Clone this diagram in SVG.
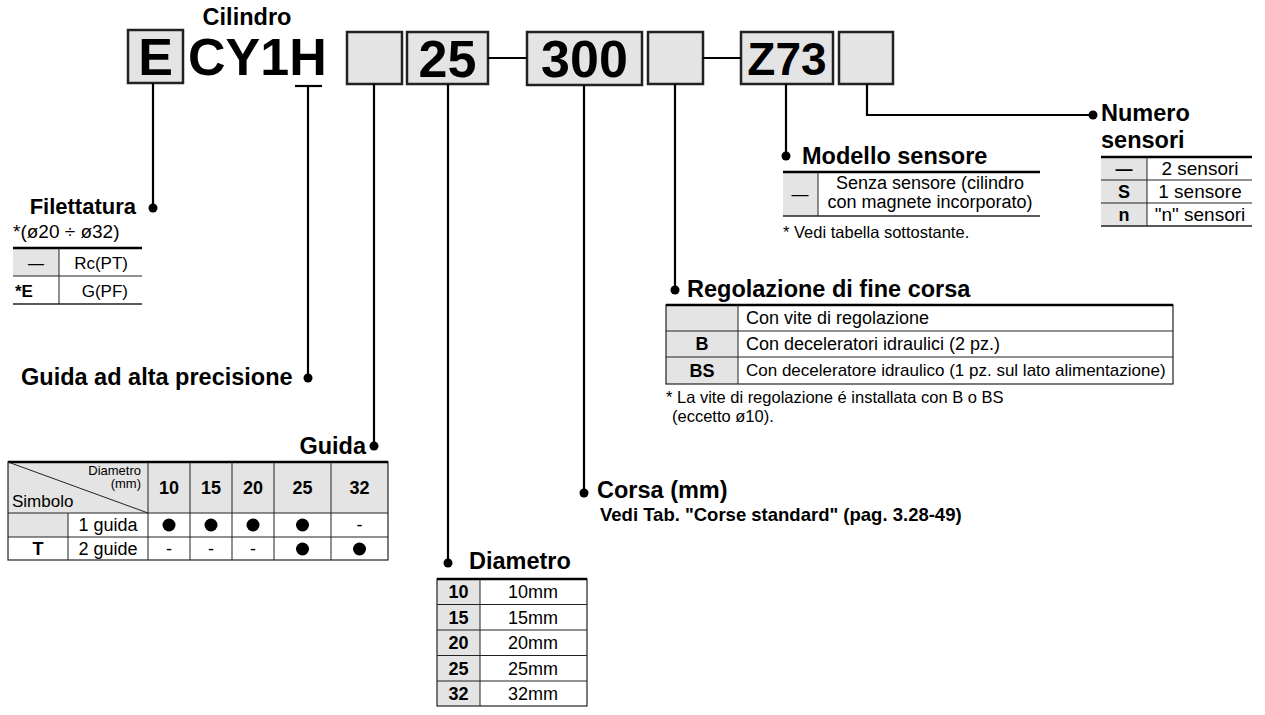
<svg xmlns="http://www.w3.org/2000/svg" width="1265" height="715" viewBox="0 0 1265 715">
<defs>
<style>
text{font-family:"Liberation Sans",Arial,Helvetica,sans-serif;fill:#000}
.big{font-size:52px;font-weight:bold}
.hd{font-size:23.5px;font-weight:bold}
.t{font-size:18px}
.tb{font-size:18px;font-weight:bold}
.m{text-anchor:middle}
.e{text-anchor:end}
.box{fill:#e4e4e4;stroke:#222;stroke-width:2.5}
.gray{fill:#e4e4e4;stroke:none}
.ln{stroke:#000;stroke-width:2.2;fill:none}
.thk{stroke:#000;stroke-width:2.5}
.thn{stroke:#222;stroke-width:1}
.dot{fill:#000}
</style>
</defs>
<rect width="1265" height="715" fill="#fff"/>

<g id="header">
<text class="hd m" x="247" y="25">Cilindro</text>
<rect class="box" x="128" y="30" width="55" height="53"/>
<text class="big m" x="155.5" y="75">E</text>
<text class="big" x="188" y="75">CY1H</text>
<rect class="box" x="347" y="32" width="55" height="52"/>
<rect class="box" x="407" y="32" width="81" height="52"/>
<text class="big m" x="447.5" y="77">25</text>
<rect class="box" x="527" y="32" width="115" height="53"/>
<text class="big m" x="584.5" y="77">300</text>
<rect class="box" x="648" y="32" width="55" height="52"/>
<rect class="box" x="741" y="32" width="92" height="52"/>
<text class="m" x="787" y="75" style="font-size:46px;font-weight:bold">Z73</text>
<rect class="box" x="839" y="32" width="54" height="52"/>
</g>

<g id="connectors">
<line class="ln" x1="488" y1="58" x2="527" y2="58"/>
<line class="ln" x1="703" y1="58" x2="741" y2="58"/>
<line class="ln" x1="153" y1="83" x2="153" y2="208"/>
<line class="ln" x1="295" y1="86" x2="322" y2="86"/>
<line class="ln" x1="308" y1="86" x2="308" y2="378"/>
<line class="ln" x1="374" y1="84" x2="374" y2="446"/>
<line class="ln" x1="448" y1="84" x2="448" y2="563"/>
<line class="ln" x1="584" y1="85" x2="584" y2="493"/>
<line class="ln" x1="675" y1="84" x2="675" y2="290"/>
<line class="ln" x1="786" y1="84" x2="786" y2="156"/>
<polyline class="ln" points="867,84 867,115 1093,115"/>
<circle class="dot" cx="153" cy="208" r="4.5"/>
<circle class="dot" cx="308" cy="378" r="4.5"/>
<circle class="dot" cx="374" cy="446" r="4.5"/>
<circle class="dot" cx="448" cy="563" r="4.5"/>
<circle class="dot" cx="584" cy="493" r="4.5"/>
<circle class="dot" cx="675" cy="290" r="4.5"/>
<circle class="dot" cx="786" cy="156" r="4.5"/>
<circle class="dot" cx="1093" cy="115" r="4.5"/>
</g>

<g id="filettatura">
<text class="e" x="136" y="214" style="font-size:22px;font-weight:bold">Filettatura</text>
<text x="13" y="238" style="font-size:19px">*(ø20 ÷ ø32)</text>
<rect class="gray" x="13" y="248" width="46" height="28"/>
<line class="thk" x1="13" y1="248" x2="142" y2="248"/>
<line class="thn" x1="13" y1="276" x2="142" y2="276"/>
<line class="thn" x1="13" y1="304" x2="142" y2="304" style="stroke-width:1.5"/>
<line class="thn" x1="59" y1="248" x2="59" y2="304"/>
<text class="m" x="36" y="269" style="font-size:16px">—</text>
<text class="e" x="128" y="269" style="font-size:17px">Rc(PT)</text>
<text x="15" y="297" style="font-size:17px;font-weight:bold">*E</text>
<text class="e" x="128" y="297" style="font-size:17px">G(PF)</text>
</g>

<g id="guida-precisione">
<text class="hd" x="21" y="385">Guida ad alta precisione</text>
</g>

<g id="guida">
<text class="hd e" x="366" y="454">Guida</text>
<rect class="gray" x="8" y="462" width="380" height="51"/>
<rect class="gray" x="8" y="513" width="60" height="24"/>
<rect x="8" y="462" width="380" height="98" fill="none" stroke="#222" stroke-width="1.2"/>
<line class="thk" x1="8" y1="462" x2="388" y2="462"/>
<line class="thn" x1="8" y1="513" x2="388" y2="513"/>
<line class="thn" x1="8" y1="537" x2="388" y2="537"/>
<line class="thn" x1="148" y1="462" x2="148" y2="560"/>
<line class="thn" x1="190" y1="462" x2="190" y2="560"/>
<line class="thn" x1="232" y1="462" x2="232" y2="560"/>
<line class="thn" x1="274" y1="462" x2="274" y2="560"/>
<line class="thn" x1="331" y1="462" x2="331" y2="560"/>
<line class="thn" x1="68" y1="513" x2="68" y2="560"/>
<line class="thn" x1="8" y1="462" x2="148" y2="513"/>
<text class="e" x="141" y="475" style="font-size:13px">Diametro</text>
<text class="e" x="141" y="488" style="font-size:13px">(mm)</text>
<text x="12" y="507" style="font-size:17px">Simbolo</text>
<text class="tb m" x="169" y="494">10</text>
<text class="tb m" x="211" y="494">15</text>
<text class="tb m" x="253" y="494">20</text>
<text class="tb m" x="302.5" y="494">25</text>
<text class="tb m" x="359.5" y="494">32</text>
<text class="t m" x="108" y="531">1 guida</text>
<circle class="dot" cx="169" cy="525" r="6.5"/>
<circle class="dot" cx="211" cy="525" r="6.5"/>
<circle class="dot" cx="253" cy="525" r="6.5"/>
<circle class="dot" cx="302.5" cy="525" r="6.5"/>
<text class="t m" x="359.5" y="531">-</text>
<text class="tb m" x="38" y="555">T</text>
<text class="t m" x="108" y="555">2 guide</text>
<text class="t m" x="169" y="555">-</text>
<text class="t m" x="211" y="555">-</text>
<text class="t m" x="253" y="555">-</text>
<circle class="dot" cx="302.5" cy="549" r="6.5"/>
<circle class="dot" cx="359.5" cy="549" r="6.5"/>
</g>

<g id="diametro">
<text class="hd" x="469" y="569">Diametro</text>
<rect class="gray" x="437" y="579" width="43" height="127"/>
<rect x="437" y="579" width="150" height="127" fill="none" stroke="#222" stroke-width="1.2"/>
<line class="thk" x1="437" y1="579" x2="587" y2="579"/>
<line class="thn" x1="437" y1="604.5" x2="587" y2="604.5"/>
<line class="thn" x1="437" y1="630" x2="587" y2="630"/>
<line class="thn" x1="437" y1="655.5" x2="587" y2="655.5"/>
<line class="thn" x1="437" y1="681" x2="587" y2="681"/>
<line class="thn" x1="480" y1="579" x2="480" y2="706"/>
<text class="tb m" x="458.5" y="598">10</text>
<text class="t m" x="533" y="598">10mm</text>
<text class="tb m" x="458.5" y="623.5">15</text>
<text class="t m" x="533" y="623.5">15mm</text>
<text class="tb m" x="458.5" y="649">20</text>
<text class="t m" x="533" y="649">20mm</text>
<text class="tb m" x="458.5" y="674.5">25</text>
<text class="t m" x="533" y="674.5">25mm</text>
<text class="tb m" x="458.5" y="700">32</text>
<text class="t m" x="533" y="700">32mm</text>
</g>

<g id="corsa">
<text class="hd" x="597" y="498">Corsa (mm)</text>
<text x="600" y="521" style="font-size:18.5px;font-weight:bold">Vedi Tab. "Corse standard" (pag. 3.28-49)</text>
</g>

<g id="regolazione">
<text class="hd" x="687" y="297">Regolazione di fine corsa</text>
<rect class="gray" x="666" y="305" width="72" height="79"/>
<rect x="666" y="305" width="507" height="79" fill="none" stroke="#222" stroke-width="1.2"/>
<line class="thk" x1="666" y1="305" x2="1173" y2="305"/>
<line class="thn" x1="666" y1="331" x2="1173" y2="331"/>
<line class="thn" x1="666" y1="357" x2="1173" y2="357"/>
<line class="thn" x1="738" y1="305" x2="738" y2="384"/>
<text x="746" y="324" style="font-size:18px">Con vite di regolazione</text>
<text class="tb m" x="702" y="350">B</text>
<text x="746" y="350" style="font-size:18px">Con deceleratori idraulici (2 pz.)</text>
<text class="tb m" x="702" y="377">BS</text>
<text x="746" y="376" style="font-size:17px">Con deceleratore idraulico (1 pz. sul lato alimentazione)</text>
<text x="666" y="403" style="font-size:16.5px">* La vite di regolazione é installata con B o BS</text>
<text x="672" y="422" style="font-size:16.5px">(eccetto ø10).</text>
</g>

<g id="modello">
<text class="hd" x="802" y="164">Modello sensore</text>
<rect class="gray" x="783" y="172" width="35" height="44"/>
<line class="thk" x1="783" y1="172" x2="1040" y2="172"/>
<line class="thn" x1="783" y1="216" x2="1040" y2="216" style="stroke-width:1.5"/>
<line class="thn" x1="818" y1="172" x2="818" y2="216"/>
<text class="m" x="800" y="200" style="font-size:17px">—</text>
<text class="m" x="930" y="189" style="font-size:18px">Senza sensore (cilindro</text>
<text class="m" x="930" y="208" style="font-size:18px">con magnete incorporato)</text>
<text x="783" y="238" style="font-size:16.5px">* Vedi tabella sottostante.</text>
</g>

<g id="numero">
<text class="hd" x="1101" y="121">Numero</text>
<text class="hd" x="1101" y="148">sensori</text>
<rect class="gray" x="1101" y="157" width="46" height="69"/>
<line class="thk" x1="1101" y1="157" x2="1252" y2="157"/>
<line class="thn" x1="1101" y1="180" x2="1252" y2="180"/>
<line class="thn" x1="1101" y1="203" x2="1252" y2="203"/>
<line class="thn" x1="1101" y1="226" x2="1252" y2="226" style="stroke-width:1.5"/>
<line class="thn" x1="1147" y1="157" x2="1147" y2="226"/>
<text class="m" x="1124" y="175" style="font-size:17px;font-weight:bold">—</text>
<text class="m" x="1200" y="175" style="font-size:19px">2 sensori</text>
<text class="tb m" x="1124" y="198">S</text>
<text class="m" x="1200" y="198" style="font-size:19px">1 sensore</text>
<text class="tb m" x="1124" y="221">n</text>
<text class="m" x="1200" y="221" style="font-size:19px">"n" sensori</text>
</g>
</svg>
